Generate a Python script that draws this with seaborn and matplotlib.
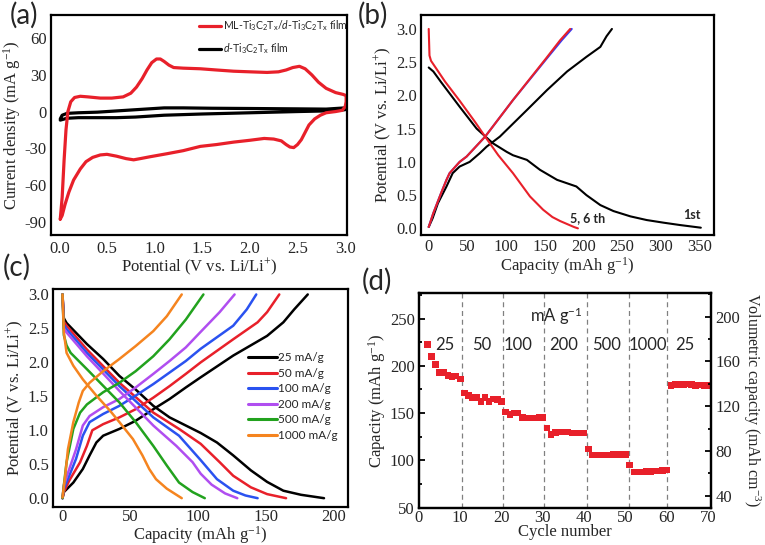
import numpy as np
import pandas as pd
import matplotlib
matplotlib.use("Agg")
import matplotlib.pyplot as plt
from matplotlib.ticker import MultipleLocator, FormatStrFormatter
from matplotlib.lines import Line2D
import seaborn as sns

# ---------------- data ----------------
# (a) cyclic voltammetry
cv_red_x = [0.01, 0.03, 0.05, 0.07, 0.09, 0.12, 0.16, 0.22, 0.30, 0.43, 0.55, 0.67, 0.75, 0.81, 0.87,
            0.92, 0.97, 1.02, 1.06, 1.10, 1.15, 1.20, 1.30, 1.48, 1.65, 1.83, 2.00, 2.18, 2.30, 2.38,
            2.45, 2.52, 2.58, 2.65, 2.72, 2.80, 2.90, 2.98, 3.01,
            3.01, 3.00, 2.97, 2.90, 2.80, 2.74, 2.68, 2.62, 2.58, 2.54, 2.50, 2.46, 2.42, 2.38, 2.33,
            2.25, 2.15, 2.00, 1.83, 1.65, 1.48, 1.30, 1.13, 0.95, 0.85, 0.78, 0.70, 0.60, 0.50, 0.43,
            0.35, 0.28, 0.22, 0.15, 0.10, 0.06, 0.03, 0.01]
cv_red_y = [-88, -70, -40, -15, 0, 8, 11.5, 12.5, 12, 11, 11, 12, 15, 20, 27,
            34, 40, 43, 43, 41, 38, 36, 35.5, 35, 34, 33, 32.5, 32, 32.5, 34,
            36, 37, 35, 30, 24, 19, 15.5, 14, 13,
            8, 4, 1, 0, -1, -3, -6, -11, -17, -23, -27, -29.5, -29, -27, -24,
            -22.5, -22, -23.5, -25, -27, -28.5, -32, -34.5, -37, -38.5, -39.5, -38.5, -36.5, -35, -35.5,
            -37.5, -41, -47, -56, -66, -76, -85, -88]
cv_blk_x = [0.01, 0.03, 0.08, 0.20, 0.40, 0.60, 0.90, 1.10, 1.30, 1.60, 2.00, 2.50, 2.80, 3.00,
            3.00, 2.80, 2.50, 2.00, 1.50, 1.10, 0.80, 0.60, 0.40, 0.20, 0.08, 0.01]
cv_blk_y = [-6, -3, -1.5, -1, -0.5, 0.5, 2, 3, 3, 2.7, 2.5, 2.2, 2, 3,
            1.5, 0.5, 0, -1, -2, -3, -4.5, -5, -5, -5, -5.5, -7]

# (b) charge/discharge, 1st and 5th/6th cycles
b_blk_dis_q = [0, 6, 16, 40, 62, 83, 101, 109, 127, 144, 166, 191, 204, 222, 239, 261, 282, 304, 325, 352]
b_blk_dis_v = [2.42, 2.36, 2.2, 1.83, 1.5, 1.28, 1.15, 1.1, 1.03, 0.88, 0.73, 0.63, 0.5, 0.35, 0.26,
               0.18, 0.125, 0.085, 0.05, 0.01]
b_blk_chg_q = [0, 5, 12, 23, 31, 40, 53, 66, 75, 92, 127, 153, 179, 204, 222, 230, 237]
b_blk_chg_v = [0.02, 0.15, 0.38, 0.63, 0.83, 0.93, 1.0, 1.13, 1.23, 1.38, 1.78, 2.08, 2.36, 2.58, 2.73, 2.89, 3.0]
b_red_dis_q = [0, 1, 3, 10, 21, 40, 60, 73, 90, 109, 131, 148, 160, 170, 180, 188, 193]
b_red_dis_v = [3.0, 2.6, 2.52, 2.4, 2.21, 1.92, 1.6, 1.38, 1.1, 0.83, 0.48, 0.28, 0.17, 0.11, 0.06, 0.02, 0.0]
b_red_chg_q = [0, 6, 16, 23, 27, 40, 49, 73, 109, 152, 170, 183]
b_red_chg_v = [0.02, 0.23, 0.53, 0.73, 0.83, 1.0, 1.08, 1.38, 1.93, 2.56, 2.83, 3.0]
b_blu_chg_q = [0, 6, 16, 23, 27, 40, 49, 73, 109, 153, 172, 185]
b_blu_chg_v = [0.02, 0.23, 0.53, 0.73, 0.83, 1.0, 1.08, 1.38, 1.93, 2.56, 2.83, 3.0]

# (c) rate curves
rates = ["25 mA/g", "50 mA/g", "100 mA/g", "200 mA/g", "500 mA/g", "1000 mA/g"]
c_dis_q = [
    [0, 1, 3, 18, 30, 42, 54, 67, 79, 91, 102, 114, 126, 139, 151, 163, 176, 193],
    [0, 1, 3, 18, 42, 67, 86, 102, 116, 126, 139, 151, 165],
    [0, 1, 3, 18, 42, 67, 86, 102, 114, 126, 135, 144],
    [0, 1, 3, 18, 42, 67, 84, 96, 102, 110, 120, 129],
    [0, 1, 3, 6, 18, 42, 54, 67, 77, 86, 96, 105],
    [0, 1, 3, 8, 15, 25, 35, 42, 52, 59, 64, 69, 77, 88],
]
c_dis_v = [
    [3.0, 2.65, 2.58, 2.27, 2.05, 1.8, 1.6, 1.36, 1.19, 1.07, 0.96, 0.82, 0.63, 0.41, 0.24, 0.11, 0.05, 0.0],
    [3.0, 2.6, 2.54, 2.19, 1.70, 1.26, 1.02, 0.8, 0.53, 0.33, 0.16, 0.06, 0.0],
    [3.0, 2.55, 2.49, 2.14, 1.65, 1.19, 0.92, 0.56, 0.28, 0.11, 0.04, 0.0],
    [3.0, 2.5, 2.44, 2.09, 1.58, 1.07, 0.77, 0.53, 0.36, 0.2, 0.07, 0.0],
    [3.0, 2.4, 2.25, 2.14, 1.9, 1.41, 1.12, 0.77, 0.48, 0.23, 0.09, 0.0],
    [3.0, 2.44, 2.14, 1.95, 1.75, 1.51, 1.29, 1.12, 0.87, 0.63, 0.43, 0.28, 0.14, 0.0],
]
c_chg_q = [
    [0, 1, 8, 15, 20, 25, 30, 42, 54, 67, 79, 91, 102, 126, 151, 163, 171, 181],
    [0, 1, 5, 13, 18, 22, 30, 42, 54, 67, 79, 91, 102, 126, 144, 151, 160],
    [0, 1, 5, 10, 15, 20, 30, 42, 54, 67, 79, 91, 102, 126, 136, 143],
    [0, 1, 5, 10, 15, 20, 30, 42, 54, 67, 79, 91, 102, 116, 127],
    [0, 1, 3, 8, 13, 18, 30, 42, 54, 67, 79, 91, 104],
    [0, 2, 4, 8, 12, 15, 20, 30, 42, 54, 67, 77, 88],
]
c_chg_v = [
    [0.0, 0.09, 0.23, 0.43, 0.63, 0.82, 0.92, 1.02, 1.14, 1.31, 1.46, 1.63, 1.78, 2.1, 2.39, 2.59, 2.78, 3.0],
    [0.0, 0.09, 0.26, 0.53, 0.77, 1.0, 1.09, 1.19, 1.31, 1.48, 1.65, 1.83, 2.0, 2.34, 2.59, 2.74, 3.0],
    [0.0, 0.14, 0.33, 0.58, 0.92, 1.12, 1.24, 1.36, 1.51, 1.68, 1.85, 2.02, 2.2, 2.54, 2.78, 3.0],
    [0.0, 0.19, 0.43, 0.72, 1.07, 1.21, 1.34, 1.46, 1.63, 1.83, 2.02, 2.22, 2.45, 2.74, 3.0],
    [0.0, 0.19, 0.53, 1.02, 1.26, 1.38, 1.56, 1.7, 1.87, 2.09, 2.34, 2.63, 3.0],
    [0.01, 0.33, 0.72, 1.12, 1.41, 1.58, 1.7, 1.87, 2.05, 2.24, 2.46, 2.68, 3.0],
]
rate_colors = ["#000000", "#e8202a", "#2a52f0", "#b04ef0", "#22a21e", "#f5841f"]

# (d) rate capability
d_cycle = list(range(2, 71))
d_capacity = [222.5, 210, 201.5, 193, 193, 190, 188.5, 189.5, 186,
              171.5, 168.5, 166.5, 166.5, 162.5, 166.5, 162.5, 165, 164.5, 162.5,
              151, 148.5, 150, 150, 145.5, 145, 145, 145, 145.5, 145.5,
              134.5, 127.5, 129.5, 130, 130, 130, 129, 129, 129, 129,
              112, 105.5, 105.5, 105.5, 105.5, 105.5, 106, 106, 106, 106.5,
              95, 88, 88, 88, 88.5, 88.5, 89, 89, 89.5, 90,
              179, 180, 180, 180.5, 181, 180, 179, 179.5, 179, 179]
d_seg_bounds = [10.3, 20.3, 30.2, 40.6, 50.9, 60.1]
d_seg_labels = ["25", "50", "100", "200", "500", "1000", "25"]
d_seg_label_x = [6.3, 15.1, 24.0, 34.9, 45.4, 55.5, 64.3]

# ---------------- style ----------------
sns.set_style("white")
SERIF = "Liberation Serif"
SANS = "Lato"
plt.rcParams["font.family"] = [SERIF, "DejaVu Serif"]
plt.rcParams["axes.unicode_minus"] = False
plt.rcParams["mathtext.fontset"] = "custom"
plt.rcParams["mathtext.rm"] = SERIF
plt.rcParams["mathtext.it"] = SERIF + ":italic"
plt.rcParams["mathtext.sf"] = SANS
plt.rcParams["mathtext.cal"] = SANS + ":italic"
plt.rcParams["mathtext.bf"] = SANS + ":bold"

RED = "#e8202a"
TICK_FS = 12
LAB_FS = 12

fig = plt.figure(figsize=(7.65, 5.45), dpi=100)
fig.patch.set_facecolor("white")

axa = fig.add_axes([0.0667, 0.5688, 0.387, 0.4037])
axb = fig.add_axes([0.5503, 0.5688, 0.383, 0.4037])
axc = fig.add_axes([0.0693, 0.0697, 0.3856, 0.4000])
axd = fig.add_axes([0.5477, 0.0684, 0.3817, 0.3940])


def style_axes(ax, right=False, xpad=3):
    for s in ax.spines.values():
        s.set_linewidth(1.6)
        s.set_color("black")
    ax.tick_params(which="both", direction="in", top=False, right=right,
                   labelsize=TICK_FS, width=1.3, color="black")
    ax.tick_params(axis="x", which="both", pad=xpad)
    ax.tick_params(axis="y", which="both", pad=3)
    ax.tick_params(which="major", length=4.5)
    ax.tick_params(which="minor", length=2.5)


def curve(ax, x, y, color, lw):
    df = pd.DataFrame({"x": x, "y": y})
    sns.lineplot(data=df, x="x", y="y", sort=False, estimator=None,
                 color=color, lw=lw, ax=ax, legend=False)


# ---------------- (a) ----------------
curve(axa, cv_blk_x, cv_blk_y, "black", 2.3)
curve(axa, cv_red_x, cv_red_y, RED, 2.3)
axa.set_xlim(-0.087, 3.02)
axa.set_ylim(-101, 79)
axa.xaxis.set_major_locator(MultipleLocator(0.5))
axa.xaxis.set_minor_locator(MultipleLocator(0.25))
axa.set_yticks([-90, -60, -30, 0, 30, 60])
axa.yaxis.set_minor_locator(MultipleLocator(15))
axa.xaxis.set_major_formatter(FormatStrFormatter("%.1f"))
axa.set_xlabel("Potential (V vs. Li/Li$^{+}$)", fontsize=LAB_FS, labelpad=0)
axa.set_ylabel("Current density (mA g$^{-1}$)", fontsize=LAB_FS, labelpad=1)
style_axes(axa, xpad=4)
ha = [Line2D([], [], color=RED, lw=2.3), Line2D([], [], color="black", lw=2.3)]
la = [r"ML-Ti$_\mathsf{3}$C$_\mathsf{2}$T$_\mathsf{x}$/$\mathcal{d}$-Ti$_\mathsf{3}$C$_\mathsf{2}$T$_\mathsf{x}$ film",
      r"$\mathcal{d}$-Ti$_\mathsf{3}$C$_\mathsf{2}$T$_\mathsf{x}$ film"]
axa.legend(ha, la, loc="upper left", bbox_to_anchor=(0.5, 0.985), frameon=False,
           prop={"family": SANS, "size": 7.6}, handlelength=2.1, handletextpad=0.15,
           labelspacing=0.85, borderpad=0, borderaxespad=0)

# ---------------- (b) ----------------
curve(axb, b_blk_dis_q, b_blk_dis_v, "black", 1.5)
curve(axb, b_blk_chg_q, b_blk_chg_v, "black", 1.5)
curve(axb, b_blu_chg_q, b_blu_chg_v, "#3a3af0", 1.5)
curve(axb, b_red_dis_q, b_red_dis_v, RED, 1.5)
curve(axb, b_red_chg_q, b_red_chg_v, RED, 1.5)
axb.set_xlim(-10, 369)
axb.set_ylim(-0.1, 3.21)
axb.xaxis.set_major_locator(MultipleLocator(50))
axb.xaxis.set_minor_locator(MultipleLocator(25))
axb.yaxis.set_major_locator(MultipleLocator(0.5))
axb.yaxis.set_minor_locator(MultipleLocator(0.25))
axb.yaxis.set_major_formatter(FormatStrFormatter("%.1f"))
axb.set_xlabel("Capacity (mAh g$^{-1}$)", fontsize=LAB_FS, labelpad=0)
axb.set_ylabel("Potential (V vs. Li/Li$^{+}$)", fontsize=LAB_FS, labelpad=1)
axb.text(205, 0.15, "5, 6 th", family=SANS, fontweight="bold", fontsize=9, ha="center", va="center")
axb.text(340, 0.2, "1st", family=SANS, fontweight="bold", fontsize=9, ha="center", va="center")
style_axes(axb, xpad=3)

# ---------------- (c) ----------------
for i in range(len(rates)):
    curve(axc, c_chg_q[i], c_chg_v[i], rate_colors[i], 1.8)
    curve(axc, c_dis_q[i], c_dis_v[i], rate_colors[i], 1.8)
axc.set_xlim(-7, 210.7)
axc.set_ylim(-0.13, 3.08)
axc.xaxis.set_major_locator(MultipleLocator(50))
axc.xaxis.set_minor_locator(MultipleLocator(25))
axc.yaxis.set_major_locator(MultipleLocator(0.5))
axc.yaxis.set_minor_locator(MultipleLocator(0.25))
axc.yaxis.set_major_formatter(FormatStrFormatter("%.1f"))
axc.set_xlabel("Capacity (mAh g$^{-1}$)", fontsize=LAB_FS, labelpad=-1)
axc.set_ylabel("Potential (V vs. Li/Li$^{+}$)", fontsize=LAB_FS, labelpad=1)
style_axes(axc, xpad=1.5)
hc = [Line2D([], [], color=c, lw=2.2) for c in rate_colors]
axc.legend(hc, rates, loc="upper left", bbox_to_anchor=(0.66, 0.71), frameon=False,
           prop={"family": SANS, "size": 8.5}, handlelength=2.5, handletextpad=0.1,
           labelspacing=0.38, borderpad=0, borderaxespad=0)

# ---------------- (d) ----------------
dfd = pd.DataFrame({"cycle": d_cycle, "cap": d_capacity})
sns.scatterplot(data=dfd, x="cycle", y="cap", marker="s", s=22, color=RED,
                edgecolor="none", linewidth=0, ax=axd, legend=False)
for xb in d_seg_bounds:
    axd.axvline(xb, color="#808080", lw=0.9, ls=(0, (4, 3)), zorder=0)
for lx, lt in zip(d_seg_label_x, d_seg_labels):
    axd.text(lx, 221.5, lt, family=SANS, fontsize=12, ha="center", va="center")
axd.text(33.2, 253, r"mA g$^\mathsf{-1}$", family=SANS, fontsize=12, ha="center", va="center")
axd.set_xlim(0, 70.7)
axd.set_ylim(50, 277)
axd.xaxis.set_major_locator(MultipleLocator(10))
axd.xaxis.set_minor_locator(MultipleLocator(5))
axd.yaxis.set_major_locator(MultipleLocator(50))
axd.yaxis.set_minor_locator(MultipleLocator(25))
axd.set_xlabel("Cycle number", fontsize=LAB_FS, labelpad=-1)
axd.set_ylabel("Capacity (mAh g$^{-1}$)", fontsize=LAB_FS, labelpad=1)
style_axes(axd, xpad=1.5)
axd2 = axd.twinx()
axd2.set_ylim(29.3, 221)
axd2.set_yticks([40, 80, 120, 160, 200])
axd2.yaxis.set_minor_locator(MultipleLocator(20))
style_axes(axd2, right=True)
axd2.tick_params(which="both", left=False, right=True, labelright=True, labelleft=False)
axd2.set_ylabel("Volumetric capacity (mAh cm$^{-3}$)", fontsize=11.5, rotation=270, labelpad=16)

# ---------------- panel labels ----------------
for txt, x, y in [("(a)", 0.013, 0.957), ("(b)", 0.468, 0.957), ("(c)", 0.003, 0.494), ("(d)", 0.473, 0.468)]:
    fig.text(x, y, txt, family=SANS, fontsize=20, ha="left", va="baseline")

fig.savefig("out.png", dpi=100, facecolor="white")
